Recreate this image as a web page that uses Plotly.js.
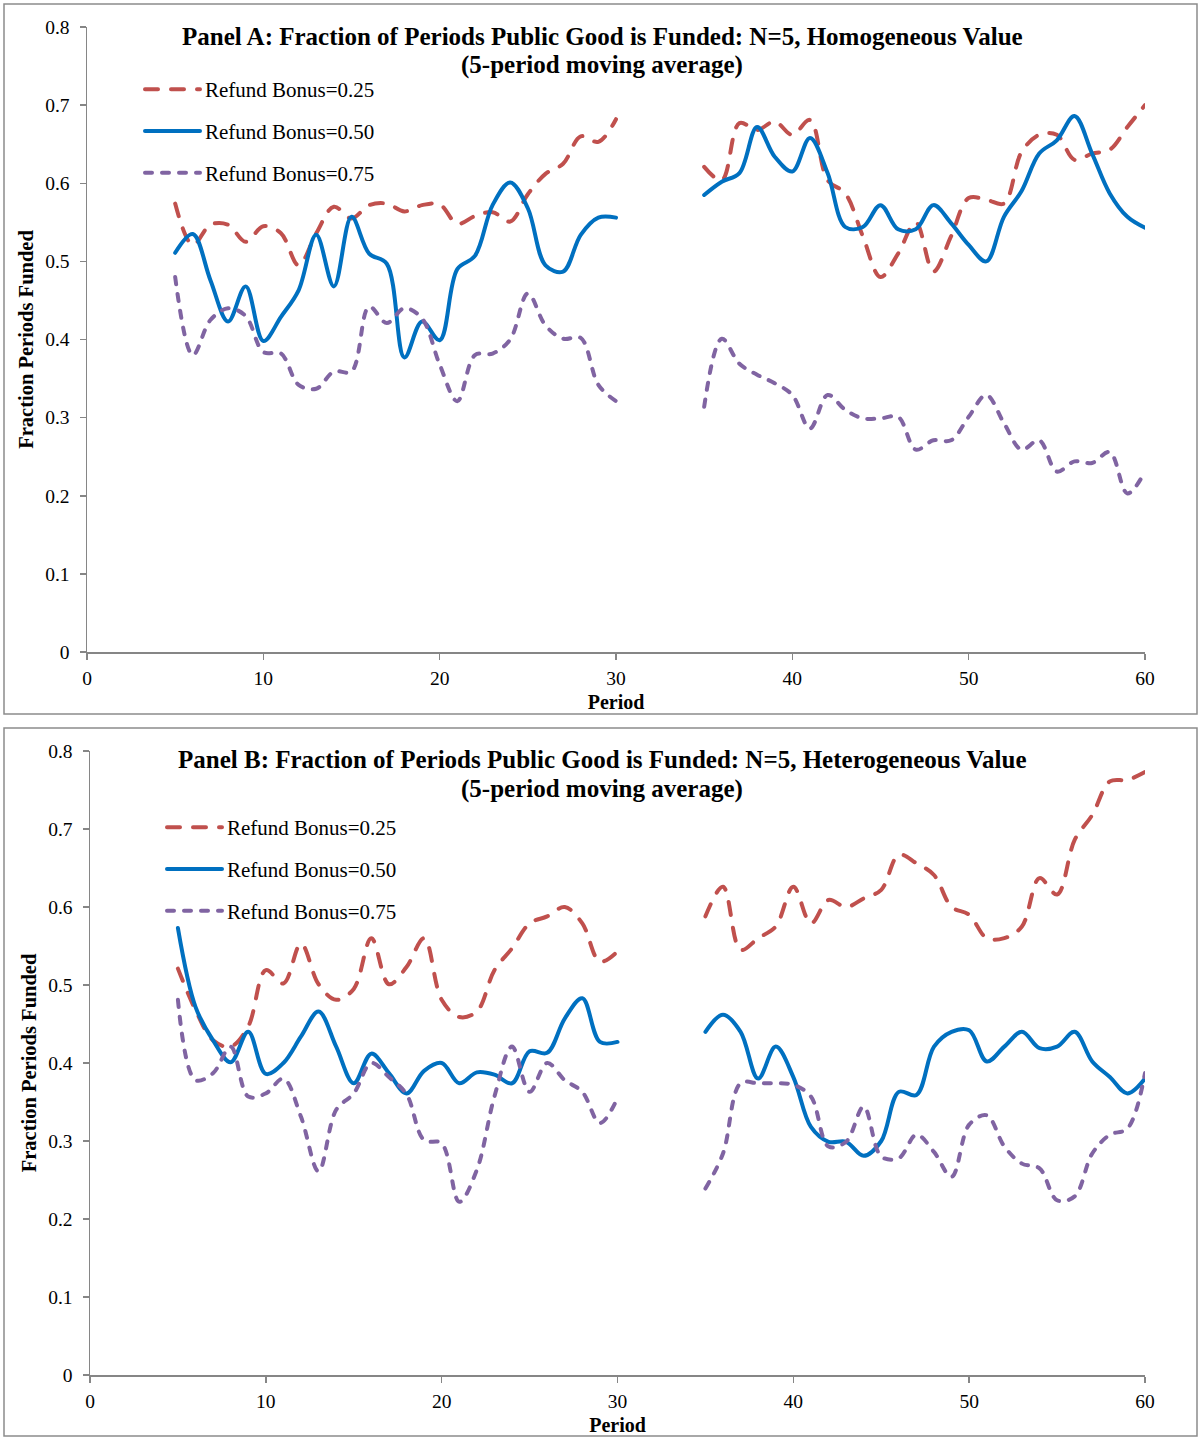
<!DOCTYPE html>
<html>
<head>
<meta charset="utf-8">
<script src="https://cdn.plot.ly/plotly-3.0.1.min.js"></script>
<style>
  html, body { margin: 0; padding: 0; background: #fff; }
  #chart { width: 1198px; height: 1437px; }
  path.js-line { stroke-linecap: round; }
</style>
</head>
<body>
<div id="chart"></div>
<script>
// Periods (gap between 30 and 35)
const periods = [5,6,7,8,9,10,11,12,13,14,15,16,17,18,19,20,21,22,23,24,25,26,27,28,29,30,31,32,33,34,
                 35,36,37,38,39,40,41,42,43,44,45,46,47,48,49,50,51,52,53,54,55,56,57,58,59,60];

// Panel A: Homogeneous Value
const a_rb025 = [0.574,0.521,0.547,0.547,0.525,0.545,0.536,0.495,0.536,0.570,0.555,0.572,0.574,0.564,0.572,0.573,0.548,0.558,0.563,0.551,0.586,0.612,0.625,0.660,0.653,0.682,
                 null,null,null,null,
                 0.621,0.604,0.677,0.668,0.679,0.662,0.681,0.604,0.587,0.532,0.480,0.510,0.550,0.487,0.532,0.581,0.579,0.574,0.640,0.662,0.662,0.630,0.638,0.643,0.672,0.700];
const a_rb050 = [0.511,0.535,0.476,0.423,0.468,0.398,0.429,0.463,0.534,0.468,0.557,0.510,0.497,0.377,0.423,0.399,0.490,0.507,0.572,0.601,0.568,0.495,0.487,0.534,0.556,0.556,
                 null,null,null,null,
                 0.585,0.602,0.613,0.672,0.634,0.615,0.658,0.613,0.544,0.544,0.572,0.541,0.541,0.572,0.549,0.521,0.500,0.557,0.590,0.638,0.655,0.686,0.638,0.587,0.557,0.543];
const a_rb075 = [0.480,0.380,0.425,0.440,0.430,0.384,0.382,0.342,0.337,0.359,0.359,0.442,0.421,0.440,0.427,0.368,0.321,0.380,0.382,0.400,0.459,0.418,0.401,0.402,0.342,0.321,
                 null,null,null,null,
                 0.314,0.401,0.369,0.355,0.344,0.329,0.286,0.329,0.310,0.299,0.299,0.301,0.259,0.271,0.271,0.301,0.329,0.293,0.259,0.271,0.231,0.244,0.242,0.256,0.203,0.231];

// Panel B: Heterogeneous Value
const b_rb025 = [0.521,0.468,0.429,0.421,0.447,0.519,0.502,0.553,0.501,0.481,0.495,0.560,0.501,0.523,0.560,0.481,0.459,0.466,0.519,0.547,0.579,0.588,0.600,0.579,0.530,0.543,
                 null,null,null,null,
                 0.588,0.626,0.545,0.560,0.575,0.626,0.579,0.609,0.600,0.611,0.622,0.667,0.656,0.641,0.600,0.590,0.560,0.560,0.575,0.637,0.616,0.686,0.718,0.761,0.763,0.773];
const b_rb050 = [0.573,0.472,0.429,0.401,0.440,0.386,0.400,0.434,0.466,0.421,0.374,0.412,0.387,0.361,0.390,0.400,0.374,0.388,0.385,0.374,0.415,0.413,0.457,0.483,0.427,0.427,
                 null,null,null,null,
                 0.440,0.462,0.440,0.380,0.421,0.382,0.318,0.299,0.299,0.281,0.300,0.363,0.359,0.421,0.440,0.442,0.402,0.421,0.440,0.419,0.421,0.440,0.402,0.382,0.361,0.380];
const b_rb075 = [0.481,0.378,0.387,0.421,0.357,0.361,0.380,0.331,0.261,0.340,0.361,0.400,0.382,0.360,0.301,0.297,0.222,0.263,0.357,0.421,0.363,0.400,0.378,0.363,0.323,0.355,
                 null,null,null,null,
                 0.239,0.284,0.374,0.374,0.374,0.372,0.357,0.293,0.299,0.344,0.280,0.278,0.308,0.286,0.254,0.321,0.333,0.293,0.271,0.265,0.224,0.229,0.284,0.308,0.316,0.387];

const seriesNames = ['Refund Bonus=0.25', 'Refund Bonus=0.50', 'Refund Bonus=0.75'];
const xTicks = [0,10,20,30,40,50,60];
const yTicks = [0,0.1,0.2,0.3,0.4,0.5,0.6,0.7,0.8];
const yTickText = ['0','0.1','0.2','0.3','0.4','0.5','0.6','0.7','0.8'];

const panelA_title = ['Panel A: Fraction of Periods Public Good is Funded: N=5, Homogeneous Value', '(5-period moving average)'];
const panelB_title = ['Panel B: Fraction of Periods Public Good is Funded: N=5, Heterogeneous Value', '(5-period moving average)'];

const W = 1198, H = 1437;
const px = v => v / W;
const py = v => 1 - v / H;

const FONT = 'Liberation Serif, Times New Roman, serif';
const styles = [
  {color: '#C0504D', width: 4, dash: '13px,13px'},
  {color: '#0070C0', width: 4, dash: 'solid'},
  {color: '#8064A2', width: 4, dash: '7px,10px'}
];

function mk(y, i, xa, ya, leg) {
  return {
    x: periods, y: y, type: 'scatter', mode: 'lines',
    name: seriesNames[i], xaxis: xa, yaxis: ya, legend: leg,
    legendgroup: leg + i, connectgaps: false,
    line: Object.assign({shape: 'spline', smoothing: 1}, styles[i]),
    hoverinfo: 'x+y'
  };
}

const traces = [
  mk(a_rb025, 0, 'x', 'y', 'legend'),
  mk(a_rb050, 1, 'x', 'y', 'legend'),
  mk(a_rb075, 2, 'x', 'y', 'legend'),
  mk(b_rb025, 0, 'x2', 'y2', 'legend2'),
  mk(b_rb050, 1, 'x2', 'y2', 'legend2'),
  mk(b_rb075, 2, 'x2', 'y2', 'legend2')
];

const axisCommon = {
  showline: true, linecolor: '#868686', linewidth: 1.5,
  ticks: 'outside', ticklen: 6, tickwidth: 1.5, tickcolor: '#868686',
  showgrid: false, zeroline: false,
  tickfont: {family: FONT, size: 19.5, color: '#000'}
};

function xaxis(domain, anchor) {
  return Object.assign({}, axisCommon, {
    domain: domain, anchor: anchor, range: [0, 60],
    tickmode: 'array', tickvals: xTicks,
    ticklabelstandoff: 2,
    title: {text: '<b>Period</b>', font: {family: FONT, size: 20, color: '#000'}, standoff: 7}
  });
}
function yaxis(domain, anchor) {
  return Object.assign({}, axisCommon, {
    domain: domain, anchor: anchor, range: [0, 0.8],
    tickmode: 'array', tickvals: yTicks, ticktext: yTickText,
    ticklabelstandoff: 6,
    title: {text: '<b>Fraction Periods Funded</b>', font: {family: FONT, size: 20.5, color: '#000'}, standoff: 6}
  });
}

const titleFont = {family: FONT, size: 25, color: '#000'};
function ann(text, xpix, ypix) {
  return {text: '<b>' + text + '</b>', xref: 'paper', yref: 'paper', x: px(xpix), y: py(ypix),
          xanchor: 'center', yanchor: 'middle', showarrow: false, font: titleFont};
}

const legendCommon = {
  font: {family: FONT, size: 21, color: '#000'},
  bgcolor: 'rgba(0,0,0,0)', borderwidth: 0,
  tracegroupgap: 11.5, itemwidth: 55, xanchor: 'left', yanchor: 'top'
};

const layout = {
  width: W, height: H,
  margin: {l: 0, r: 0, t: 0, b: 0},
  paper_bgcolor: '#fff', plot_bgcolor: '#fff',
  showlegend: true,
  xaxis: xaxis([px(87), px(1145)], 'y'),
  yaxis: yaxis([py(652), py(27)], 'x'),
  xaxis2: xaxis([px(90), px(1145)], 'y2'),
  yaxis2: yaxis([py(1375), py(751)], 'x2'),
  legend: Object.assign({}, legendCommon, {x: px(140), y: py(69)}),
  legend2: Object.assign({}, legendCommon, {x: px(162), y: py(807)}),
  annotations: [
    ann(panelA_title[0], 602, 36),
    ann(panelA_title[1], 602, 65),
    ann(panelB_title[0], 602, 760),
    ann(panelB_title[1], 602, 789)
  ],
  shapes: [
    {type: 'rect', xref: 'paper', yref: 'paper', x0: px(4), x1: px(1197), y0: py(714), y1: py(4),
     line: {color: '#8C8C8C', width: 1.5}},
    {type: 'rect', xref: 'paper', yref: 'paper', x0: px(4), x1: px(1197), y0: py(1436), y1: py(728),
     line: {color: '#8C8C8C', width: 1.5}}
  ]
};

Plotly.newPlot('chart', traces, layout, {displayModeBar: false, staticPlot: true});
</script>
</body>
</html>
